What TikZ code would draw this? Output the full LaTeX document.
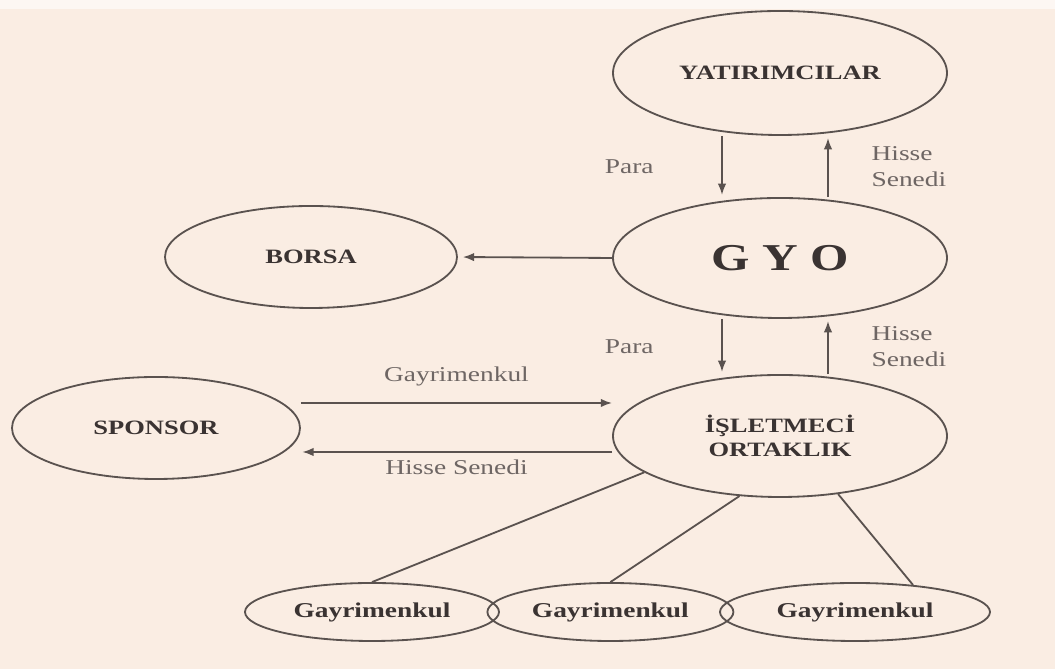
\documentclass[tikz,border=0pt]{standalone}
\usepackage{fontspec}
\setmainfont{Liberation Serif}[FakeStretch=1.3]
\usepackage{tikz}
\usetikzlibrary{
  arrows.meta,
  positioning,
  shapes.geometric,
}
\definecolor{paper}{HTML}{FAEDE3}
\definecolor{ink}{HTML}{5A524F}
\definecolor{inktext}{HTML}{3A3332}
\definecolor{softtext}{HTML}{6E6664}
\tikzset{
  >={Latex[length=8pt,width=6pt]},
  every node/.append style={text=inktext},
  blob/.style={
    shape=ellipse,
    draw=ink,
    line width=1.3pt,
    inner sep=0pt,
    align=center,
    font=\bfseries\fontsize{14.5}{17}\selectfont,
  },
  flow/.style={draw=ink, line width=1.3pt, ->},
  link/.style={draw=ink, line width=1.3pt},
  lbl/.style={font=\fontsize{15}{18}\selectfont, text=softtext, align=left},
}

\begin{document}
\begin{tikzpicture}[x=1cm,y=1cm]
  \fill[paper] (0,0) rectangle (26.375,16.725);
  \fill[white!55!paper] (0,16.5) rectangle (26.375,16.725);

  % upper chain
  \node[blob, minimum width=8.35cm, minimum height=3.1cm] (yat) at (19.5,14.9) {YATIRIMCILAR};
  \node[blob, minimum width=8.35cm, minimum height=3.0cm,
        font=\bfseries\fontsize{27}{30}\selectfont] (gyo) at (19.5,10.275) {G Y O};
  \node[blob, minimum width=7.3cm, minimum height=2.55cm] (borsa) at (7.775,10.3) {BORSA};

  \draw[flow, shorten >=1.5pt] ([xshift=-1.45cm]yat.south) -- ([xshift=-1.45cm]gyo.north)
    node[midway, left=1.57cm, lbl] {Para};
  \draw[flow, shorten >=1.5pt] ([xshift=1.2cm]gyo.north) -- ([xshift=1.2cm]yat.south)
    node[midway, right=0.95cm, lbl] {Hisse\\Senedi};
  \draw[flow, shorten >=3.5pt] (gyo.west) -- (borsa.east);

  % operating partner
  \node[blob, minimum width=7.2cm, minimum height=2.55cm] (sponsor) at (3.9,6.025) {SPONSOR};
  \node[blob, minimum width=8.35cm, minimum height=3.05cm] (islet) at (19.5,5.825) {İŞLETMECİ\\ORTAKLIK};

  \draw[flow, shorten >=1.5pt] ([xshift=-1.45cm]gyo.south) -- ([xshift=-1.45cm]islet.north)
    node[midway, left=1.57cm, lbl] {Para};
  \draw[flow, shorten >=1.5pt] ([xshift=1.2cm]islet.north) -- ([xshift=1.2cm]gyo.south)
    node[midway, right=0.95cm, lbl] {Hisse\\Senedi};

  \draw[flow] ([yshift=0.625cm]sponsor.east) -- ([yshift=0.625cm]sponsor.east -| islet.west)
    node[midway, above=0.28cm, lbl] {Gayrimenkul};
  \draw[flow, shorten >=1pt] ([yshift=-0.6cm]sponsor.east -| islet.west) -- ([yshift=-0.6cm]sponsor.east)
    node[midway, below=0.05cm, lbl] {Hisse Senedi};

  % properties
  \node[blob, minimum width=6.35cm, minimum height=1.45cm,
        font=\bfseries\fontsize{15}{18}\selectfont] (gay1) at (9.3,1.425) {Gayrimenkul};
  \node[blob, minimum width=6.15cm, minimum height=1.45cm,
        font=\bfseries\fontsize{15}{18}\selectfont] (gay2) at (15.26,1.425) {Gayrimenkul};
  \node[blob, minimum width=6.75cm, minimum height=1.45cm,
        font=\bfseries\fontsize{15}{18}\selectfont] (gay3) at (21.375,1.425) {Gayrimenkul};

  \draw[link] (islet.195) -- (gay1.north);
  \draw[link] (islet.236) -- (gay2.north);
  \draw[link] (islet.315) -- (gay3.25);
\end{tikzpicture}
\end{document}
